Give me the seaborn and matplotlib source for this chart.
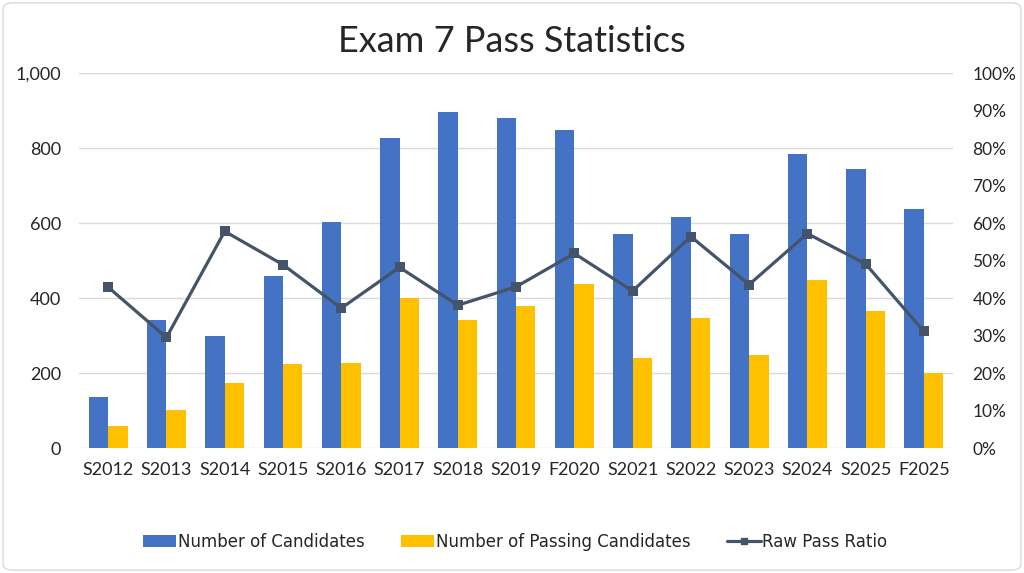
import numpy as np
import pandas as pd
import matplotlib.pyplot as plt
import seaborn as sns
from matplotlib.patches import FancyBboxPatch, Patch
from matplotlib.lines import Line2D
from matplotlib.ticker import FuncFormatter, PercentFormatter

# values
terms = ["S2012", "S2013", "S2014", "S2015", "S2016", "S2017", "S2018", "S2019",
         "F2020", "S2021", "S2022", "S2023", "S2024", "S2025", "F2025"]
candidates = [135, 342, 300, 459, 603, 828, 896, 879, 847, 571, 617, 572, 784, 744, 637]
passing = [59, 101, 173, 225, 227, 399, 342, 380, 438, 239, 348, 249, 447, 365, 200]
pass_ratio = [0.429, 0.295, 0.578, 0.489, 0.373, 0.482, 0.381, 0.430,
              0.519, 0.419, 0.564, 0.436, 0.572, 0.491, 0.311]

sns.set_style("white")
plt.rcParams['font.family'] = ['Lato', 'DejaVu Sans']

df = pd.DataFrame({"term": terms * 2,
                   "count": candidates + passing,
                   "series": ["Number of Candidates"] * len(terms)
                             + ["Number of Passing Candidates"] * len(terms)})

blue = "#4472C4"
gold = "#FFC000"
slate = "#44546A"

fig = plt.figure(figsize=(10.24, 5.73), dpi=100)
ax = fig.add_axes([0.0772, 0.218, 0.8535, 0.6545])

sns.barplot(data=df, x="term", y="count", hue="series", order=terms,
            palette=[blue, gold], width=0.667, gap=0, saturation=1,
            linewidth=0, ax=ax, legend=False)
ax.set_ylim(0, 1000)
ax.set_yticks(range(0, 1001, 200))
ax.yaxis.set_major_formatter(FuncFormatter(lambda v, p: f"{int(v):,}"))
ax.grid(axis="y", color="#D9D9D9", linewidth=1)
ax.set_axisbelow(True)
ax.set_xlabel("")
ax.set_ylabel("")
for s in ax.spines.values():
    s.set_visible(False)
ax.tick_params(axis="y", length=0, labelsize=13, pad=13)
ax.tick_params(axis="x", length=0, labelsize=13, pad=10)
ax.set_xlim(-0.5, len(terms) - 0.5)

ax2 = ax.twinx()
sns.lineplot(x=np.arange(len(terms)), y=pass_ratio, ax=ax2, color=slate,
             linewidth=2.3, marker="s", markersize=6.5, markeredgewidth=0)
ax2.set_ylim(0, 1)
ax2.set_yticks(np.arange(0, 1.01, 0.1))
ax2.yaxis.set_major_formatter(PercentFormatter(1.0, decimals=0))
for s in ax2.spines.values():
    s.set_visible(False)
ax2.tick_params(axis="y", length=0, labelsize=12.5, pad=14)
ax2.set_xlim(-0.5, len(terms) - 0.5)

fig.text(0.5, 0.928, "Exam 7 Pass Statistics", ha="center", va="center", fontsize=26)

handles = [Patch(facecolor=blue, edgecolor="none", label="Number of Candidates"),
           Patch(facecolor=gold, edgecolor="none", label="Number of Passing Candidates"),
           Line2D([0], [0], color=slate, linewidth=2.3, marker="s", markersize=5,
                  label="Raw Pass Ratio")]
fig.legend(handles=handles, loc="center", bbox_to_anchor=(0.503, 0.054), ncol=3,
           frameon=False, handlelength=2.0, handletextpad=0.1,
           columnspacing=2.2, prop={"family": ["DejaVu Sans"], "size": 12})

border = FancyBboxPatch((0.003, 0.005), 0.994, 0.99, boxstyle="round,pad=0,rounding_size=0.01",
                        transform=fig.transFigure, facecolor="none", edgecolor="#D9D9D9",
                        linewidth=1)
fig.patches.append(border)

fig.savefig("out.png", dpi=100)
